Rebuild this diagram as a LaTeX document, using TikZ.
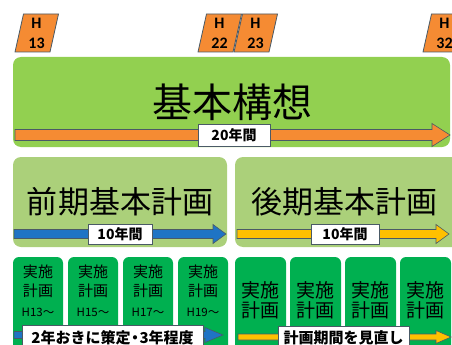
\documentclass[tikz,border=0pt]{standalone}
\usepackage{fontspec}
\setmainfont{Carlito}
\newfontfamily\jp{Noto Sans CJK JP}
\definecolor{topgreen}{HTML}{92D050}
\definecolor{midgreen}{HTML}{ABD07A}
\definecolor{lowgreen}{HTML}{00B050}
\definecolor{orng}{HTML}{F58B33}
\definecolor{blu}{HTML}{1F74C4}
\definecolor{yel}{HTML}{FFC000}
\definecolor{edge}{HTML}{4A5A66}
\tikzset{
  panel/.style={fill=#1, draw=none, rounded corners=8pt},
  small/.style={fill=lowgreen, draw=none, rounded corners=6pt},
  arrowline/.style={draw=edge, line width=0.6pt, line join=miter},
  tag/.style={draw=edge, fill=white, line width=0.6pt, inner sep=0pt},
  badge/.style={fill=orng, draw=edge, line width=0.8pt},
}
\newcommand\fatarrow[7]{%
  \draw[arrowline, fill=#1] (#2,#4-#5) -- (#3-#7,#4-#5) -- (#3-#7,#4-#6) -- (#3,#4)
    -- (#3-#7,#4+#6) -- (#3-#7,#4+#5) -- (#2,#4+#5) -- cycle;}
\newcommand\hbadge[3]{%
  \draw[badge] (#2,52) -- (#2+35,52) -- (#2+43.5,14) -- (#2+8.5,14) -- cycle;
  \node[align=center, font=\bfseries\fontsize{16}{20}\selectfont, inner sep=0pt] (#1) at (#2+21.5,33) {H\\#3};}
\begin{document}
\begin{tikzpicture}[x=1pt,y=-1pt]
\useasboundingbox (0,0) rectangle (452,345);
\clip (0,0) rectangle (452,345);
% year badges
\hbadge{h13}{15}{13}
\hbadge{h22}{198}{22}
\hbadge{h23}{234}{23}
\hbadge{h32}{423}{32}
% top panel
\fill[panel=topgreen] (13,57) rectangle (450,147);
\node[font=\jp\fontsize{40}{40}\selectfont, inner sep=0pt] (kihon) at (232,102) {基本構想};
\fatarrow{orng}{15}{450}{135}{5.5}{11.5}{18}
\node[tag, minimum width=72pt, minimum height=22pt, font=\jp\bfseries\fontsize{14}{14}\selectfont] (y20) at (234,135) {20年間};
% middle panels
\fill[panel=midgreen] (13,157) rectangle (227,247);
\fill[panel=midgreen] (235,157) rectangle (470,247);
\node[font=\jp\fontsize{31}{31}\selectfont, inner sep=0pt] (zenki) at (120,202) {前期基本計画};
\node[font=\jp\fontsize{31}{31}\selectfont, inner sep=0pt] (kouki) at (344.5,202) {後期基本計画};
\fatarrow{blu}{14}{226}{234}{4.5}{9.5}{13}
\fatarrow{yel}{237}{449}{234}{4.5}{9.5}{13}
\node[tag, minimum width=64pt, minimum height=20pt, font=\jp\bfseries\fontsize{14}{14}\selectfont] (y10a) at (120,234) {10年間};
\node[tag, minimum width=68pt, minimum height=20pt, font=\jp\bfseries\fontsize{14}{14}\selectfont] (y10b) at (345,234) {10年間};
% bottom small panels
\foreach \x/\h in {13/13,68/15,123/17,178/19}{
  \fill[small] (\x,257) rectangle (\x+50,370);
  \node[font=\jp\fontsize{15}{15}\selectfont, inner sep=0pt] (ja\h) at (\x+25,272) {実施};
  \node[font=\jp\fontsize{15}{15}\selectfont, inner sep=0pt] (jb\h) at (\x+25,291) {計画};
  \node[font=\jp\fontsize{11.5}{12}\selectfont, inner sep=0pt] (jh\h) at (\x+25,312) {H\h〜};
}
\foreach \x/\n in {235/1,290/2,345/3,400/4}{
  \fill[small] (\x,257) rectangle (\x+51,370);
  \node[font=\jp\fontsize{19}{19}\selectfont, inner sep=0pt] (ka\n) at (\x+25.5,290) {実施};
  \node[font=\jp\fontsize{19}{19}\selectfont, inner sep=0pt] (kb\n) at (\x+25.5,310) {計画};
}
\fatarrow{blu}{14}{223}{335}{3.5}{7.5}{18}
\fatarrow{yel}{238}{451}{337}{3}{6.5}{15}
\node[tag, minimum width=181pt, minimum height=26pt, font=\jp\bfseries\fontsize{15}{15}\selectfont] (cycle) at (112.5,338) {2年おきに策定{\kern-3pt}・{\kern-3pt}3年程度};
\node[tag, minimum width=131pt, minimum height=24pt, font=\jp\bfseries\fontsize{15}{15}\selectfont] (review) at (343.5,338) {計画期間を見直し};
\end{tikzpicture}
\end{document}
